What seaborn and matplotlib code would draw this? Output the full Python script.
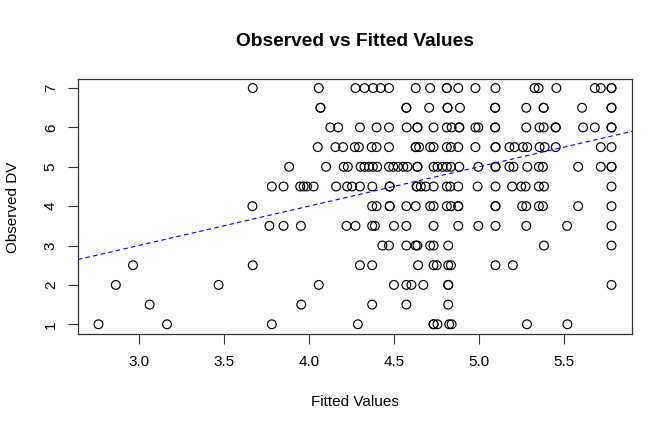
import numpy as np
import pandas as pd
import matplotlib
matplotlib.use("Agg")
import matplotlib.pyplot as plt
import seaborn as sns

# fitted values, one list per observed DV level
fit_7 = [3.671, 4.059, 4.275, 4.328, 4.379, 4.423, 4.472, 4.629, 4.714, 4.812, 4.812, 4.879,
         4.980, 5.098, 5.328, 5.351, 5.456, 5.682, 5.717, 5.780, 5.780]
fit_6_5 = [4.069, 4.069, 4.574, 4.574, 4.708, 4.816, 4.816, 4.889, 5.096, 5.096, 5.279, 5.381,
           5.381, 5.607, 5.780, 5.780]
fit_6 = [4.127, 4.173, 4.301, 4.399, 4.472, 4.576, 4.639, 4.639, 4.734, 4.812, 4.840, 4.885,
         4.885, 4.980, 4.997, 5.096, 5.096, 5.279, 5.357, 5.381, 5.452, 5.452, 5.613, 5.682,
         5.780, 5.780]
fit_5_5 = [4.053, 4.157, 4.202, 4.271, 4.295, 4.370, 4.399, 4.472, 4.629, 4.629, 4.649, 4.714,
           4.734, 4.812, 4.836, 4.879, 4.980, 5.098, 5.098, 5.180, 5.210, 5.259, 5.285, 5.357,
           5.387, 5.452, 5.717, 5.780]
fit_5 = [3.885, 4.102, 4.206, 4.230, 4.305, 4.328, 4.354, 4.377, 4.403, 4.472, 4.497, 4.525,
         4.556, 4.580, 4.639, 4.639, 4.734, 4.757, 4.787, 4.812, 4.836, 4.885, 4.997, 5.098,
         5.098, 5.180, 5.204, 5.285, 5.353, 5.377, 5.584, 5.717, 5.780, 5.780]
fit_4_5 = [3.783, 3.852, 3.950, 3.970, 3.990, 4.029, 4.161, 4.226, 4.255, 4.301, 4.374, 4.476,
           4.476, 4.635, 4.635, 4.659, 4.688, 4.734, 4.812, 4.832, 4.879, 4.993, 5.098, 5.196,
           5.249, 5.275, 5.353, 5.383, 5.780]
fit_4 = [3.669, 4.373, 4.399, 4.476, 4.476, 4.574, 4.629, 4.714, 4.734, 4.812, 4.836, 4.879,
         4.879, 5.098, 5.098, 5.255, 5.279, 5.353, 5.377, 5.584, 5.780]
fit_3_5 = [3.769, 3.852, 3.954, 4.222, 4.275, 4.373, 4.389, 4.501, 4.574, 4.734, 4.879, 4.997,
           5.098, 5.279, 5.519, 5.780]
fit_3 = [4.433, 4.472, 4.574, 4.629, 4.639, 4.714, 4.734, 4.820, 5.383, 5.780]
fit_2_5 = [2.967, 3.671, 4.301, 4.373, 4.643, 4.734, 4.753, 4.820, 4.836, 5.098, 5.200]
fit_2 = [2.866, 3.470, 4.059, 4.501, 4.574, 4.604, 4.674, 4.820, 4.820, 5.780]
fit_1_5 = [3.065, 3.956, 4.373, 4.574, 4.820]
fit_1 = [2.764, 3.167, 3.783, 4.289, 4.734, 4.734, 4.757, 4.826, 4.840, 5.283, 5.521]

observed_levels = [7, 6.5, 6, 5.5, 5, 4.5, 4, 3.5, 3, 2.5, 2, 1.5, 1]
fitted_by_level = [fit_7, fit_6_5, fit_6, fit_5_5, fit_5, fit_4_5, fit_4, fit_3_5,
                   fit_3, fit_2_5, fit_2, fit_1_5, fit_1]

x_ticks = [3.0, 3.5, 4.0, 4.5, 5.0, 5.5]
y_ticks = [1, 2, 3, 4, 5, 6, 7]

rows = []
for lvl, fits in zip(observed_levels, fitted_by_level):
    for f in fits:
        rows.append((f, lvl))
df = pd.DataFrame(rows, columns=["fitted", "observed"])

sns.set_theme(style="ticks")
plt.rcParams["font.family"] = ["Liberation Sans", "DejaVu Sans"]
plt.rcParams["text.color"] = "black"

fig = plt.figure(figsize=(6.72, 4.32), dpi=100)
ax = fig.add_axes([0.116, 0.2275, 0.8245, 0.5905])

sns.scatterplot(data=df, x="fitted", y="observed", ax=ax, s=40,
                facecolor="none", edgecolor="black", linewidth=0.85)
ax.margins(x=0.04, y=0.04)
# y = x reference line
ax.axline((3, 3), slope=1, color="blue", linestyle=(0, (4, 3)), linewidth=0.8)

ax.set_xticks(x_ticks)
ax.set_xticklabels([f"{t:.1f}" for t in x_ticks])
ax.set_yticks(y_ticks)
ax.set_yticklabels([str(t) for t in y_ticks], rotation=90, va="center")
ax.tick_params(axis="both", length=7.5, width=0.8, color="#333333",
               labelsize=11, labelcolor="black")
ax.tick_params(axis="x", pad=8)
ax.tick_params(axis="y", pad=7)
for sp in ax.spines.values():
    sp.set_color("#333333")
    sp.set_linewidth(0.9)

ax.set_xlabel("")
ax.set_ylabel("")
fig.text(0.528, 0.905, "Observed vs Fitted Values", ha="center", va="center",
         fontsize=13.8, fontweight="bold", color="black")
fig.text(0.528, 0.069, "Fitted Values", ha="center", va="center", fontsize=11, color="black")
fig.text(0.02, 0.52, "Observed DV", ha="center", va="center", rotation=90, fontsize=11,
         color="black")

fig.savefig("out.png", dpi=100)
